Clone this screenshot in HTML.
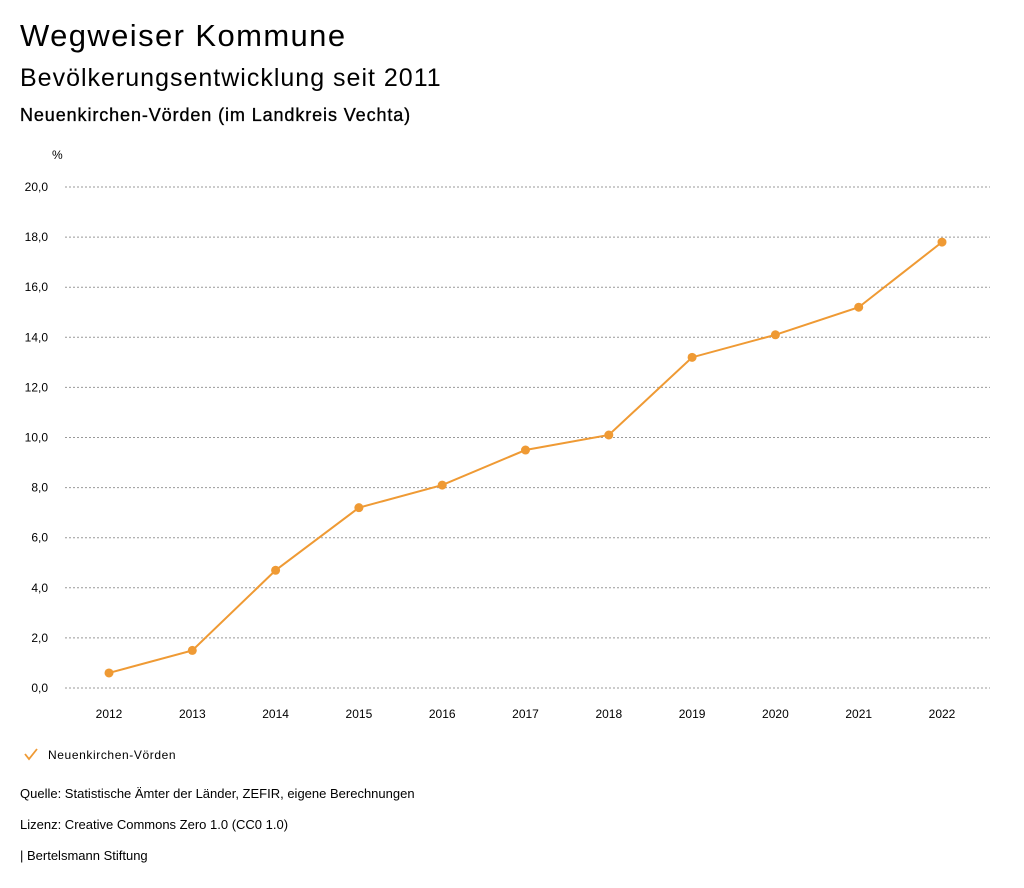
<!DOCTYPE html>
<html><head><meta charset="utf-8"><style>
body{margin:0;width:1024px;height:888px;background:#fff;font-family:"Liberation Sans",sans-serif;color:#000;position:relative;overflow:hidden}
.t{position:absolute;left:20px;white-space:nowrap}
</style></head><body>
<div class="t" style="top:18px;font-size:31px;letter-spacing:1.4px">Wegweiser Kommune</div>
<div class="t" style="top:64px;font-size:25px;letter-spacing:1px">Bevölkerungsentwicklung seit 2011</div>
<div class="t" style="top:105px;font-size:18px;letter-spacing:0.9px;-webkit-text-stroke:0.35px #000">Neuenkirchen-Vörden (im Landkreis Vechta)</div>
<svg id="chart" width="1024" height="888" style="position:absolute;left:0;top:0" font-family="Liberation Sans, sans-serif"></svg>
<div class="t" style="top:786px;font-size:13px">Quelle: Statistische Ämter der Länder, ZEFIR, eigene Berechnungen</div>
<div class="t" style="top:817px;font-size:13px">Lizenz: Creative Commons Zero 1.0 (CC0 1.0)</div>
<div class="t" style="top:848px;font-size:13px">| Bertelsmann Stiftung</div>
<script>
const years=["2012","2013","2014","2015","2016","2017","2018","2019","2020","2021","2022"];
const values=[0.6,1.5,4.7,7.2,8.1,9.5,10.1,13.2,14.1,15.2,17.8];
const yTicks=[0,2,4,6,8,10,12,14,16,18,20];
const NS="http://www.w3.org/2000/svg";
const svg=document.getElementById('chart');
const y=v=>688-v*25.05;
const x=i=>109+i*83.3;
function mk(t,a,txt){const e=document.createElementNS(NS,t);for(const k in a)e.setAttribute(k,a[k]);if(txt!=null)e.textContent=txt;svg.appendChild(e);return e;}
const u=mk('text',{x:52,y:159,'font-size':12},'%');


yTicks.forEach(v=>{
 const g=mk('line',{x1:65,x2:990,y1:y(v),y2:y(v),stroke:'#999','stroke-dasharray':'2,2','stroke-width':1});
 
 
 const l=mk('text',{x:48,y:y(v)+4,'font-size':12,'text-anchor':'end'},v.toFixed(1).replace('.',','));
 
 
});
years.forEach((yr,i)=>{
 const l=mk('text',{x:x(i),y:718,'font-size':12,'text-anchor':'middle'},yr);
 
 
});
const p=mk('polyline',{points:values.map((v,i)=>x(i)+','+y(v)).join(' '),fill:'none',stroke:'#EF9A34','stroke-width':2});


values.forEach((v,i)=>{
 const c=mk('circle',{cx:x(i),cy:y(v),r:4.5,fill:'#EF9A34'});
 
 
});
const chk=mk('polyline',{points:'25,754 29,759 37,749',fill:'none',stroke:'#EF9A34','stroke-width':1.8});


const lt=mk('text',{x:48,y:759,'font-size':12,'letter-spacing':0.6},'Neuenkirchen-Vörden');


</script>
</body></html>
